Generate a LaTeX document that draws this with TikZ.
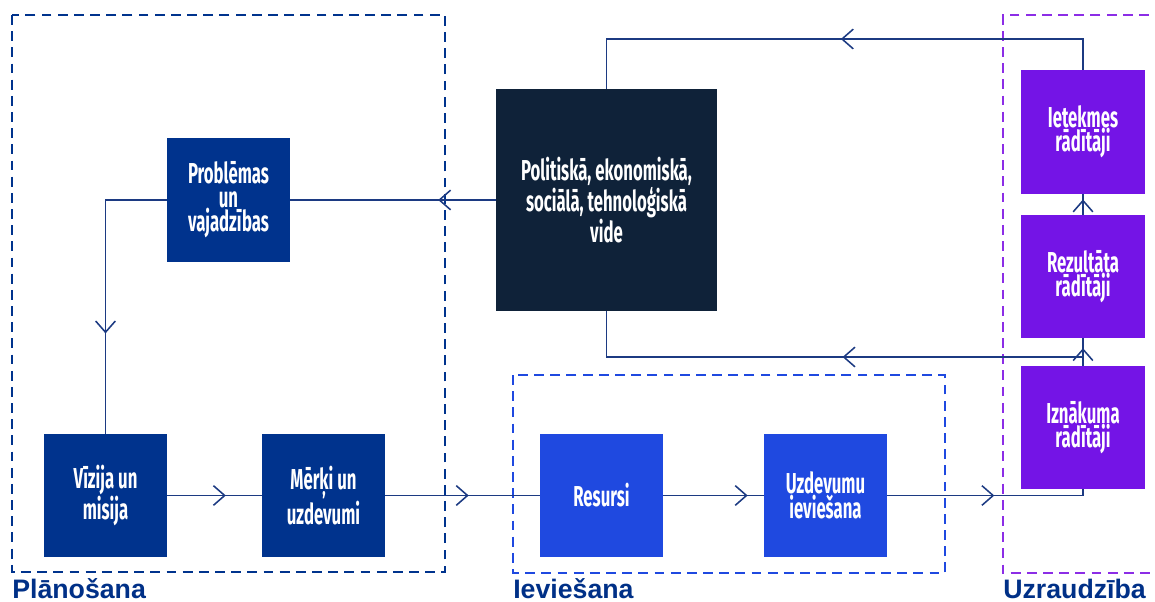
\documentclass[tikz,border=0pt]{standalone}
\usepackage{fontspec}
\setmainfont{Liberation Sans}
\newfontfamily\condfont[FakeStretch=0.58]{Fira Sans}
\usepackage{xcolor}
\usetikzlibrary{arrows.meta, positioning, decorations.markings}

\definecolor{planblue}{RGB}{0,51,141}
\definecolor{implblue}{RGB}{31,73,224}
\definecolor{monpurple}{RGB}{116,20,230}
\definecolor{envnavy}{RGB}{15,34,57}
\definecolor{monframe}{RGB}{140,45,230}
\definecolor{linecol}{RGB}{28,58,130}
\definecolor{labelnavy}{RGB}{0,48,135}

\begin{document}
\begin{tikzpicture}[x=0.025cm, y=-0.025cm,
    box/.style={rectangle, text=white, align=center, inner sep=0pt,
        font=\condfont\bfseries\fontsize{20.5}{17}\selectfont},
    planbox/.style={box, fill=planblue, minimum width=3.075cm, minimum height=3.075cm},
    implbox/.style={box, fill=implblue, minimum width=3.075cm, minimum height=3.075cm},
    monbox/.style={box, fill=monpurple, minimum width=3.1cm, minimum height=3.075cm},
    envbox/.style={box, fill=envnavy, minimum width=5.525cm, minimum height=5.525cm},
    groupframe/.style={dashed, dash pattern=on 7pt off 4.5pt, line width=1.4pt},
    grouplabel/.style={font=\bfseries\fontsize{19}{22}\selectfont, text=labelnavy, inner sep=0pt, anchor=base west},
    flow/.style={draw=linecol, line width=1.1pt, postaction={decorate},
        decoration={markings, mark=at position #1 with {\arrow{Straight Barb[length=8pt, width=14pt, line width=1.1pt]}}}},
    flow/.default=0.5
]
    \useasboundingbox (0,0) rectangle (1155,602);

    % Groups
    \draw [groupframe, draw=planblue] (12,15) rectangle (445,572);
    \draw [groupframe, draw=implblue] (513,375) rectangle (945,573);
    \draw [groupframe, draw=monframe] (1165,15) -- (1003,15) -- (1003,573) -- (1165,573);
    \node [grouplabel] (planlabel) at (12,598) {Plānošana};
    \node [grouplabel] (impllabel) at (513,598) {Ieviešana};
    \node [grouplabel] (monlabel) at (1003,598) {Uzraudzība};

    % Planning
    \node [planbox] (problems) at (228.5,200) {Problēmas\\un\\vajadzības};
    \node [planbox] (vision) at (105.5,495.5) {Vīzija un\\misija};
    \node [planbox] (goals) at (323.5,495.5) {Mērķi un\\uzdevumi};

    % Environment
    \node [envbox] (environment) at (606.5,200) {Politiskā, ekonomiskā,\\sociālā, tehnoloģiskā\\vide};

    % Implementation
    \node [implbox] (resources) at (601.5,495.5) {Resursi};
    \node [implbox] (tasks) at (825.5,495.5) {Uzdevumu\\ieviešana};

    % Monitoring
    \node [monbox] (impact) at (1083,132) {Ietekmes\\rādītāji};
    \node [monbox] (result) at (1083,276.5) {Rezultāta\\rādītāji};
    \node [monbox] (output) at (1083,427.5) {Iznākuma\\rādītāji};

    % Flows
    \draw [flow=0.28] (environment.west) -- (problems.east);
    \draw [flow=0.66] (problems.west) -| (vision.north);
    \draw [flow=0.62] (vision.east) -- (goals.west);
    \draw [flow=0.54] (goals.east) -- (resources.west);
    \draw [flow=0.84] (resources.east) -- (tasks.west);
    \draw [flow=0.53] (tasks.east) -| (output.south);
    \draw [flow=0.64] (output.north) -- (result.south);
    \draw [flow=0.73] (result.north) -- (impact.south);

    % Feedback
    \coordinate (topturn) at (1083,39);
    \coordinate (fork) at (1083,357);
    \draw [flow=0.49] (impact.north) -- (topturn) -| (environment.north);
    \draw [flow=0.46] (fork) -| (environment.south);
\end{tikzpicture}
\end{document}
